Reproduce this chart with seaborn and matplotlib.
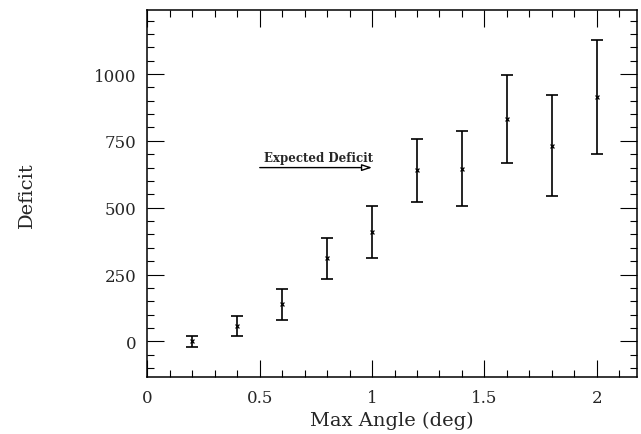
import matplotlib
matplotlib.use("Agg")
import matplotlib.pyplot as plt
import numpy as np
import pandas as pd
import seaborn as sns
from matplotlib.ticker import MultipleLocator

# values
max_angle = [0.2, 0.4, 0.6, 0.8, 1.0, 1.2, 1.4, 1.6, 1.8, 2.0]
deficit = [0, 57, 138, 310, 410, 640, 646, 832, 732, 913]
deficit_err = [20, 38, 58, 76, 97, 118, 140, 165, 188, 213]

expected_deficit = 650

df = pd.DataFrame({"angle": max_angle, "deficit": deficit, "err": deficit_err})

sns.set_style("ticks")
plt.rcParams["font.family"] = ["DejaVu Serif"]

fig, ax = plt.subplots(figsize=(6.41, 4.35), dpi=100)
fig.subplots_adjust(left=0.23, right=0.994, top=0.975, bottom=0.13)

ax.errorbar(df.angle, df.deficit, yerr=df.err, fmt="none", ecolor="black",
            elinewidth=1.2, capsize=4, capthick=1.2)
sns.scatterplot(data=df, x="angle", y="deficit", marker="x", color="black",
                s=8, linewidth=0.9, ax=ax, zorder=3)

ax.annotate("", xy=(1.0, expected_deficit), xytext=(0.5, expected_deficit),
            arrowprops=dict(arrowstyle="-|>,head_length=0.6,head_width=0.2",
                            facecolor="white", edgecolor="black", lw=1.0,
                            shrinkA=0, shrinkB=0))
ax.text(0.52, expected_deficit + 12, "Expected Deficit", fontsize=8.5,
        fontweight="bold", ha="left", va="bottom")

ax.set_xlim(0, 2.18)
ax.set_ylim(-135, 1240)
ax.xaxis.set_major_locator(MultipleLocator(0.5))
ax.xaxis.set_minor_locator(MultipleLocator(0.1))
ax.yaxis.set_major_locator(MultipleLocator(250))
ax.yaxis.set_minor_locator(MultipleLocator(50))
ax.set_xticks([0, 0.5, 1, 1.5, 2])
ax.set_xticklabels(["0", "0.5", "1", "1.5", "2"])

ax.tick_params(which="both", direction="in", top=True, right=True,
               color="black", width=0.8, labelsize=12, pad=8)
ax.tick_params(which="major", length=12)
ax.tick_params(which="minor", length=5)
for s in ax.spines.values():
    s.set_linewidth(1.1)
    s.set_color("black")

ax.set_xlabel("Max Angle (deg)", fontsize=14, labelpad=4)
ax.set_ylabel("Deficit", fontsize=14, labelpad=42)

fig.savefig("out.png", dpi=100)
